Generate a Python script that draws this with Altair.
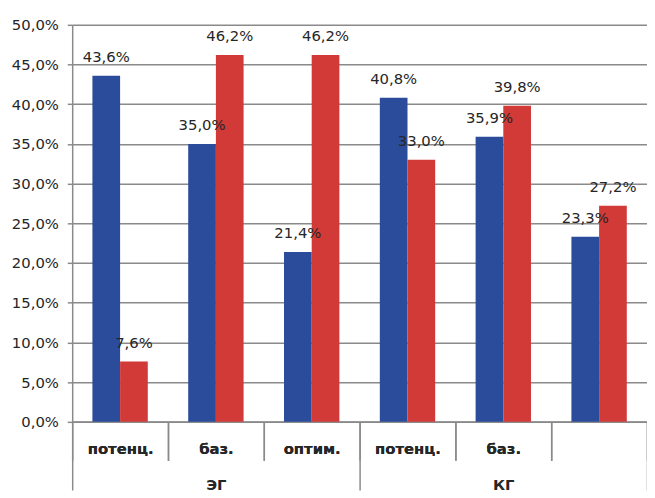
import json
import altair as alt
import pandas as pd

cats = ["потенц.", "баз.", "оптим.", "потенц.", "баз.", ""]
groups = ["ЭГ", "ЭГ", "ЭГ", "КГ", "КГ", "КГ"]
group_order = ["ЭГ", "КГ"]
blue = [43.6, 35.0, 21.4, 40.8, 35.9, 23.3]
red = [7.6, 46.2, 46.2, 33.0, 39.8, 27.2]
series = ["s1", "s2"]
colors = ["#2a4c9b", "#d13a37"]
y_ticks = [0, 5, 10, 15, 20, 25, 30, 35, 40, 45, 50]

rows = []
for i in range(len(cats)):
    rows.append({"k": i, "series": "s1", "value": blue[i], "group": groups[i]})
    rows.append({"k": i, "series": "s2", "value": red[i], "group": groups[i]})
df = pd.DataFrame(rows)
gdf = pd.DataFrame({"group": group_order})

FONT = "DejaVu Sans"
GRID = "#8a8a8a"
TXT = "#262626"
label_expr = json.dumps(cats, ensure_ascii=False) + "[datum.value]"
pct_expr = "replace(format(datum.value, '.1f'), '.', ',') + '%'"

x_cat = alt.X(
    "k:O",
    scale=alt.Scale(paddingInner=0, paddingOuter=0),
    axis=alt.Axis(
        orient="bottom", title=None, labelExpr=label_expr, labelAngle=0,
        tickBand="extent", tickSize=39, tickColor=GRID, tickWidth=1.5,
        domainColor=GRID, domainWidth=1.5, labelPadding=-19,
        labelFontSize=15, labelFont=FONT, labelFontWeight="bold",
        labelColor=TXT, grid=False,
    ),
)
x_off = alt.XOffset(
    "series:N", scale=alt.Scale(domain=series, paddingOuter=0.73, paddingInner=0)
)
y_enc = alt.Y(
    "value:Q",
    scale=alt.Scale(domain=[0, 50], nice=False),
    axis=alt.Axis(
        title=None, values=y_ticks, labelExpr=pct_expr, grid=True,
        gridColor=GRID, gridWidth=1.5, tickColor=GRID, tickWidth=1.5, tickSize=5,
        domainColor=GRID, domainWidth=1.5, labelFontSize=15, labelFont=FONT,
        labelColor=TXT, labelPadding=9,
    ),
)

bars = alt.Chart(df).mark_bar().encode(
    x=x_cat,
    xOffset=x_off,
    y=y_enc,
    color=alt.Color("series:N", scale=alt.Scale(domain=series, range=colors), legend=None),
)
text = alt.Chart(df).transform_calculate(
    lbl=pct_expr
).mark_text(
    dy=-19, fontSize=15, font=FONT, color=TXT
).encode(
    x=x_cat,
    xOffset=x_off,
    y=alt.Y("value:Q"),
    text="lbl:N",
)

grp = alt.Chart(gdf).mark_point(opacity=0).encode(
    x=alt.X(
        "group:N", sort=group_order,
        scale=alt.Scale(paddingInner=0, paddingOuter=0),
        axis=alt.Axis(
            orient="bottom", title=None, offset=39, domain=False, labelAngle=0,
            tickBand="extent", tickSize=30, tickColor=GRID, tickWidth=1.5,
            labelPadding=-13, labelFontSize=15, labelFont=FONT,
            labelFontWeight="bold", labelColor=TXT, grid=False,
        ),
    ),
)

chart = (
    alt.layer(bars, text, grp)
    .resolve_scale(x="independent")
    .properties(
        width=582, height=402,
        autosize=alt.AutoSizeParams(type="none"),
        padding={"left": 65, "top": 14, "right": 0, "bottom": 68},
        background="white",
    )
    .configure_view(stroke=None)
)

chart.save("out.html", embed_options={"renderer": "svg", "actions": False})
